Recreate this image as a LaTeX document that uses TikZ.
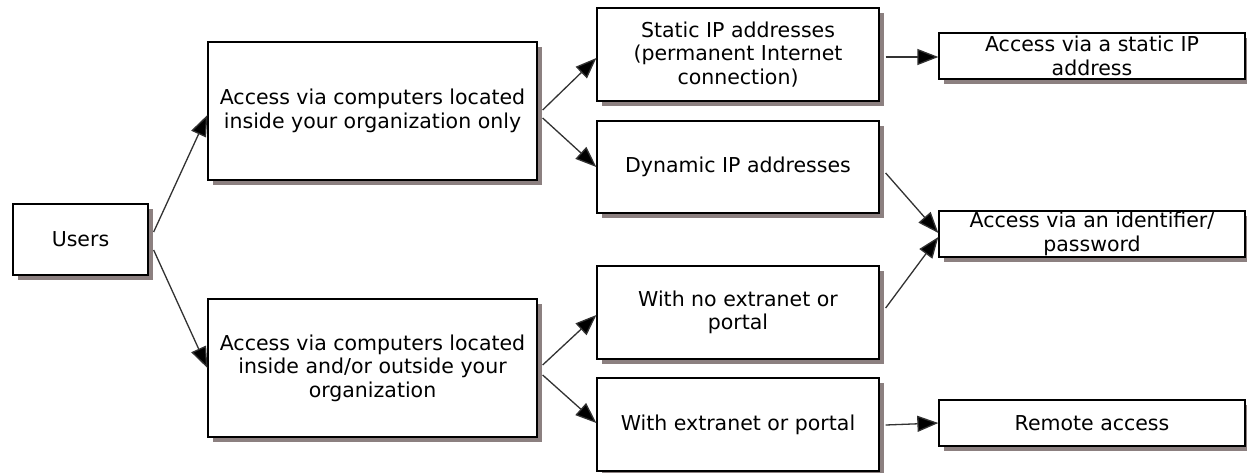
\documentclass[tikz,border=0pt]{standalone}
\usepackage{fontspec}
\setmainfont{DejaVu Sans}
\usetikzlibrary{arrows.meta,calc,shadows}
\definecolor{shadowgray}{RGB}{140,128,128}
\definecolor{linegray}{RGB}{50,50,50}
\begin{document}
\begin{tikzpicture}[x=1pt,y=-1pt,
  box/.style={draw=black,line width=1.3pt,fill=white,inner sep=0pt,align=center,
    font=\fontsize{20.5}{23.5}\selectfont,
    drop shadow={shadow xshift=5pt,shadow yshift=-5pt,fill=shadowgray,opacity=1}},
  arr/.style={draw=linegray,line width=1.3pt,-{Triangle[length=21pt,width=16pt,fill=black]}}]
\useasboundingbox[fill=white] (0,0) rectangle (1247,472);
\node[box,minimum width=135pt,minimum height=71pt] (u) at (80.5,239.5) {Users};
\node[box,minimum width=329pt,minimum height=138pt] (a) at (372.5,111) {Access via computers located\\inside your organization only};
\node[box,minimum width=329pt,minimum height=138pt] (b) at (372.5,368) {Access via computers located\\inside and/or outside your\\organization};
\node[box,minimum width=282pt,minimum height=93pt] (s) at (738,54.5) {Static IP addresses\\(permanent Internet\\connection)};
\node[box,minimum width=282pt,minimum height=92pt] (d) at (738,167) {Dynamic IP addresses};
\node[box,minimum width=282pt,minimum height=93pt] (n) at (738,312.5) {With no extranet or\\portal};
\node[box,minimum width=282pt,minimum height=93pt] (e) at (738,424.5) {With extranet or portal};
\node[box,minimum width=306pt,minimum height=46pt] (sa) at (1092,56) {Access via a static IP\\address};
\node[box,minimum width=306pt,minimum height=46pt] (id) at (1092,234) {Access via an identifier/\\password};
\node[box,minimum width=306pt,minimum height=46pt] (r) at (1092,423) {Remote access};
\draw[arr] ($(u.east)+(5,-7.5)$) -- ($(a.west)+(0,4)$);
\draw[arr] ($(u.east)+(5,10.5)$) -- (b.west);
\draw[arr] ($(a.east)+(5,-1)$) -- ($(s.west)+(0,3.5)$);
\draw[arr] ($(a.east)+(5,7)$) -- (d.west);
\draw[arr] ($(s.east)+(6,2.5)$) -- ($(sa.west)+(0,1)$);
\draw[arr] ($(d.east)+(6,6)$) -- ($(id.west)+(0,-1)$);
\draw[arr] ($(n.east)+(6,-4.5)$) -- ($(id.west)+(0,3)$);
\draw[arr] ($(b.east)+(5,-3)$) -- ($(n.west)+(0,2.5)$);
\draw[arr] ($(b.east)+(5,7)$) -- ($(e.west)+(0,-1.5)$);
\draw[arr] ($(e.east)+(6,0.5)$) -- (r.west);
\end{tikzpicture}
\end{document}
